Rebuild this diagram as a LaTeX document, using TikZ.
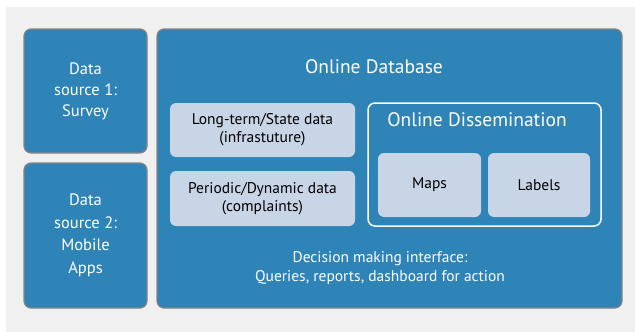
\documentclass[tikz,border=0pt]{standalone}
\usepackage{fontspec}
\setmainfont{PT Sans}
\definecolor{panelblue}{HTML}{2E83B7}
\definecolor{panelgray}{HTML}{F0F0F0}
\definecolor{edgegray}{HTML}{858585}
\definecolor{paleblue}{HTML}{C8D5E6}
\tikzset{
  sourcebox/.style={draw=edgegray, line width=1.2pt, fill=panelblue, rounded corners=7pt,
    text=white, align=center, inner sep=0pt},
  itembox/.style={fill=paleblue, rounded corners=6pt, text=black, align=center, inner sep=0pt,
    font=\fontsize{15.5}{18}\selectfont},
  wtext/.style={text=white, align=center, inner sep=0pt},
}
\begin{document}
\begin{tikzpicture}[x=1pt,y=-1pt]
	\useasboundingbox (0,0) rectangle (635,332);
	\fill[panelgray] (6,7) rectangle (635,332);
	% sources
	\node[sourcebox, minimum width=123pt, minimum height=124pt,
	      font=\fontsize{16.5}{21}\selectfont] (src1) at (85.5,91) {Data\\source 1:\\Survey};
	\node[sourcebox, minimum width=123pt, minimum height=145pt,
	      font=\fontsize{16.5}{22.5}\selectfont] (src2) at (85.5,235.5) {Data\\source 2:\\Mobile\\Apps};
	% database
	\node[sourcebox, minimum width=465pt, minimum height=279pt] (db) at (389.5,168.5) {};
	\node[wtext, font=\fontsize{19.5}{22}\selectfont] (dbtitle) at (374,67) {Online Database};
	\node[itembox, minimum width=185pt, minimum height=54pt] (longterm) at (262.5,130)
	      {Long-term/State data\\(infrastuture)};
	\node[itembox, minimum width=185pt, minimum height=55pt] (periodic) at (262.5,198.5)
	      {Periodic/Dynamic data\\(complaints)};
	% dissemination
	\node[draw=white, line width=1.5pt, rounded corners=7pt, minimum width=233pt,
	      minimum height=123pt, inner sep=0pt] (diss) at (484.5,164.5) {};
	\node[wtext, font=\fontsize{19.5}{22}\selectfont] (disstitle) at (477,120) {Online Dissemination};
	\node[itembox, minimum width=103pt, minimum height=64pt] (maps) at (429.5,185) {Maps};
	\node[itembox, minimum width=102pt, minimum height=64pt] (labels) at (539,185) {Labels};
	% interface
	\node[wtext, font=\fontsize{15.5}{19}\selectfont] (decision) at (380,268.5)
	      {Decision making interface:\\Queries, reports, dashboard for action};
\end{tikzpicture}
\end{document}
